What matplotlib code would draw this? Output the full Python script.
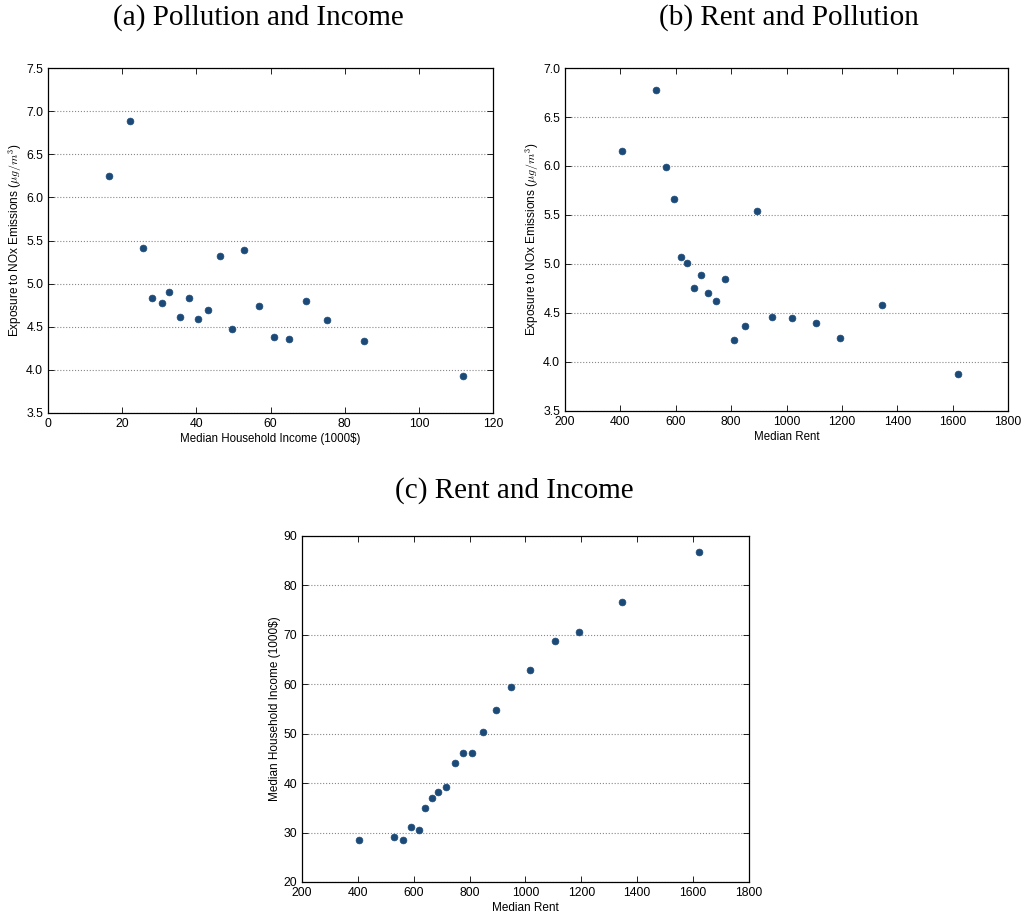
import numpy as np
import matplotlib
matplotlib.use('Agg')
import matplotlib.pyplot as plt

dot_c = '#1c4a78'

# (a) income (1000$) vs NOx exposure
inc_a = [16.4, 22.1, 25.5, 28.1, 30.6, 32.6, 35.5, 37.9, 40.5, 43.1,
         46.3, 49.5, 52.8, 57.0, 61.0, 65.0, 69.6, 75.3, 85.2, 111.8]
nox_a = [6.25, 6.89, 5.41, 4.83, 4.77, 4.90, 4.61, 4.83, 4.59, 4.69,
         5.32, 4.47, 5.39, 4.74, 4.38, 4.36, 4.80, 4.58, 4.34, 3.93]

# (b) rent vs NOx exposure
rent_b = [407, 530, 563, 592, 619, 641, 666, 690, 717, 747,
          779, 810, 850, 894, 948, 1019, 1106, 1192, 1345, 1621]
nox_b = [6.15, 6.78, 5.99, 5.66, 5.07, 5.01, 4.75, 4.89, 4.70, 4.62,
         4.85, 4.22, 4.37, 5.54, 4.46, 4.45, 4.40, 4.24, 4.58, 3.88]

# (c) rent vs income
rent_c = [405, 529, 563, 591, 618, 640, 666, 688, 716, 747,
          778, 809, 849, 895, 948, 1018, 1105, 1191, 1345, 1621]
inc_c = [28.4, 29.0, 28.4, 31.1, 30.5, 34.9, 36.9, 38.1, 39.2, 44.1,
         46.1, 46.0, 50.3, 54.7, 59.4, 62.9, 68.7, 70.5, 76.7, 86.7]

nox_label = r'Exposure to NOx Emissions ($\mu g/m^3$)'

plt.rcParams['font.family'] = ['Liberation Sans', 'DejaVu Sans']
plt.rcParams['mathtext.fontset'] = 'cm'

fig = plt.figure(figsize=(10.24, 9.19), dpi=100)
ax1 = fig.add_axes([0.0469, 0.5506, 0.4346, 0.3754])
ax2 = fig.add_axes([0.5518, 0.5528, 0.4326, 0.3732])
ax3 = fig.add_axes([0.2949, 0.0403, 0.4365, 0.3765])

ax1.scatter(inc_a, nox_a, s=24, c=dot_c, edgecolors=dot_c, lw=0.5, zorder=3)
ax1.set_xlim(0, 120)
ax1.set_ylim(3.5, 7.5)
ax1.set_xticks(np.arange(0, 121, 20))
ax1.set_yticks(np.arange(3.5, 7.51, 0.5))
ax1.set_xlabel('Median Household Income (1000$)', fontsize=8.3, labelpad=2)
ax1.set_ylabel(nox_label, fontsize=8.5, labelpad=1.5)

ax2.scatter(rent_b, nox_b, s=24, c=dot_c, edgecolors=dot_c, lw=0.5, zorder=3)
ax2.set_xlim(200, 1800)
ax2.set_ylim(3.5, 7.0)
ax2.set_xticks(np.arange(200, 1801, 200))
ax2.set_yticks(np.arange(3.5, 7.01, 0.5))
ax2.set_xlabel('Median Rent', fontsize=8.3, labelpad=2)
ax2.set_ylabel(nox_label, fontsize=8.5, labelpad=1.5)

ax3.scatter(rent_c, inc_c, s=24, c=dot_c, edgecolors=dot_c, lw=0.5, zorder=3)
ax3.set_xlim(200, 1800)
ax3.set_ylim(20, 90)
ax3.set_xticks(np.arange(200, 1801, 200))
ax3.set_yticks(np.arange(20, 91, 10))
ax3.set_xlabel('Median Rent', fontsize=8.5, labelpad=2)
ax3.set_ylabel('Median Household Income (1000$)', fontsize=8.5, labelpad=2)

for ax in [ax1, ax2, ax3]:
    ax.yaxis.grid(True, ls=':', color='#888888', lw=0.8)
    ax.set_axisbelow(True)
    ax.tick_params(direction='in', top=True, right=True, length=4,
                   width=0.6, labelsize=8.8, pad=3.5)
    for sp in ax.spines.values():
        sp.set_linewidth(0.9)

fig.text(0.252, 0.981, '(a) Pollution and Income', ha='center', va='center',
         family='Liberation Serif', fontsize=21)
fig.text(0.770, 0.981, '(b) Rent and Pollution', ha='center', va='center',
         family='Liberation Serif', fontsize=21)
fig.text(0.502, 0.466, '(c) Rent and Income', ha='center', va='center',
         family='Liberation Serif', fontsize=21)

plt.savefig('out.png', dpi=100)
